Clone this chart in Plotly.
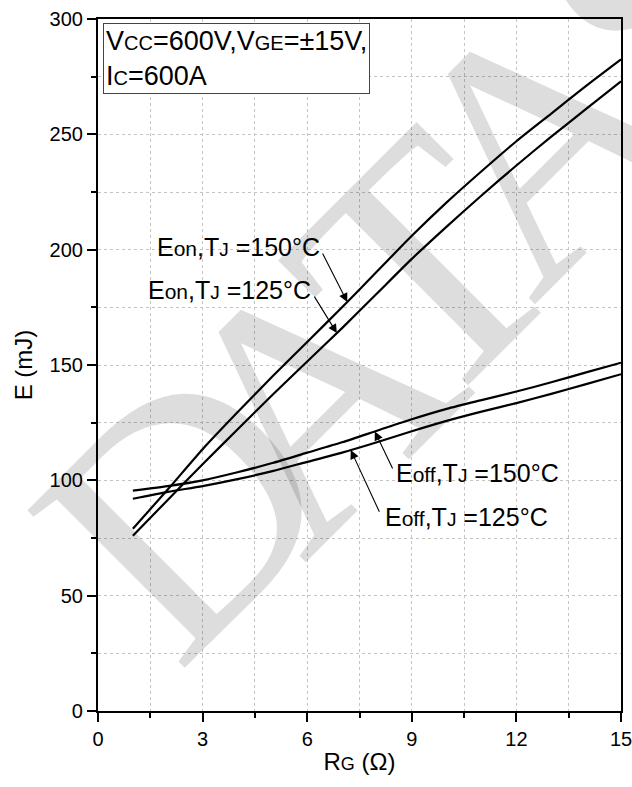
import numpy as np
import plotly.graph_objects as go

# ---- data ----
RG = [1, 2, 3, 4, 5, 6, 7, 8, 9, 10, 11, 12, 13, 14, 15]
Eon_150 = [79, 96, 113.5, 129.5, 145, 160, 175, 190.5, 206, 220.5, 234, 247, 259, 271, 282.5]
Eon_125 = [76, 91.5, 107, 122, 137, 151.5, 166, 181, 196, 210, 223.5, 236.5, 249, 261, 273]
Eoff_150 = [95.5, 97.5, 100, 103.5, 107.5, 112, 116.5, 121.5, 126.5, 131, 134.8, 138.5, 142.5, 146.8, 151]
Eoff_125 = [92, 95, 97.5, 100.5, 104, 108, 112, 116.5, 121.3, 125.8, 129.8, 133.5, 137.5, 141.7, 146]

x_ticks = [0, 3, 6, 9, 12, 15]
y_ticks = [0, 50, 100, 150, 200, 250, 300]

# watermark letters (paper coordinates of letter centres)
wm_letters = ["D", "A", "T", "A", "S"]
wm_x = [0.165, 0.404, 0.6237, 0.8433, 1.084]
wm_y = [0.295, 0.4552, 0.6402, 0.8266, 1.0275]

FONT = "Arial, 'Liberation Sans', sans-serif"

fig = go.Figure()
for ys in (Eon_150, Eon_125, Eoff_150, Eoff_125):
    fig.add_trace(go.Scatter(x=RG, y=ys, mode="lines",
                             line=dict(color="black", width=2.2, shape="spline", smoothing=0.7),
                             showlegend=False, hoverinfo="skip"))

def sc(t, size):
    return f"<span style='font-size:{size}px'>{t}</span>"

annots = []
for ch, wx, wy in zip(wm_letters, wm_x, wm_y):
    annots.append(dict(text=ch, xref="paper", yref="paper", x=wx, y=wy,
                       xanchor="center", yanchor="middle", showarrow=False, textangle=-45,
                       font=dict(family="'Liberation Serif', 'Times New Roman', serif", size=340,
                                 color="rgba(0,0,0,0.135)")))

# condition box
annots.append(dict(text="V" + sc("CC", 20) + "=600V,V" + sc("GE", 20) + "=±15V,<br>I" + sc("C", 20) + "=600A",
                   xref="paper", yref="paper", x=0.01, y=0.9935, xanchor="left", yanchor="top",
                   align="left", showarrow=False, bgcolor="white", bordercolor="#444",
                   borderwidth=1, borderpad=2, font=dict(family=FONT, size=27, color="black")))

def label(text, x, y, anchor):
    annots.append(dict(text=text, x=x, y=y, xref="x", yref="y", xanchor=anchor, yanchor="middle",
                       showarrow=False, font=dict(family=FONT, size=25, color="black")))

def arrow(xtip, series, xtail, ytail):
    annots.append(dict(text="", x=xtip, y=float(np.interp(xtip, RG, series)), xref="x", yref="y",
                       ax=xtail, ay=ytail, axref="x", ayref="y", showarrow=True,
                       arrowhead=2, arrowsize=1.6, arrowwidth=1.1, arrowcolor="black", standoff=0))

label("E" + sc("on", 21) + ",T" + sc("J", 19) + " =150°C", 6.42, 201, "right")
arrow(7.15, Eon_150, 6.42, 199)
label("E" + sc("on", 21) + ",T" + sc("J", 19) + " =125°C", 6.18, 182.7, "right")
arrow(6.85, Eon_125, 6.18, 180.3)
label("E" + sc("off", 21) + ",T" + sc("J", 19) + " =150°C", 8.5, 103.2, "left")
arrow(7.94, Eoff_150, 8.47, 104.5)
label("E" + sc("off", 21) + ",T" + sc("J", 19) + " =125°C", 8.16, 84.1, "left")
arrow(7.25, Eoff_125, 8.09, 85.7)

grid = dict(gridcolor="#c4c4c4", griddash="dot", gridwidth=1)

fig.update_layout(
    width=632, height=787,
    margin=dict(l=97.5, r=11, t=19, b=76),
    paper_bgcolor="white", plot_bgcolor="white",
    font=dict(family=FONT, color="black"),
    annotations=annots,
    xaxis=dict(range=[0, 15], tickvals=x_ticks, ticktext=[str(v) for v in x_ticks],
               automargin=False, ticklabeloverflow="allow",
               showline=True, linecolor="black", linewidth=2.2, mirror=True,
               ticks="outside", ticklen=9, tickwidth=2, tickcolor="black",
               tickfont=dict(size=20, family=FONT), showgrid=True, **grid, zeroline=False,
               minor=dict(dtick=1.5, tick0=0, ticks="outside", ticklen=5, tickwidth=2,
                          tickcolor="black", showgrid=True, **grid),
               title=dict(text="R" + sc("G", 18) + " (Ω)", font=dict(size=24, family=FONT), standoff=4)),
    yaxis=dict(range=[0, 300], tickvals=y_ticks, ticktext=[str(v) for v in y_ticks],
               automargin=False, ticklabeloverflow="allow",
               showline=True, linecolor="black", linewidth=2.2, mirror=True,
               ticks="outside", ticklen=9, tickwidth=2, tickcolor="black",
               tickfont=dict(size=20, family=FONT), showgrid=True, **grid, zeroline=False,
               minor=dict(dtick=25, tick0=0, ticks="outside", ticklen=5, tickwidth=2,
                          tickcolor="black", showgrid=True, **grid),
               title=dict(text="E (mJ)", font=dict(size=24, family=FONT), standoff=10)),
)

fig.write_html("out.html")
